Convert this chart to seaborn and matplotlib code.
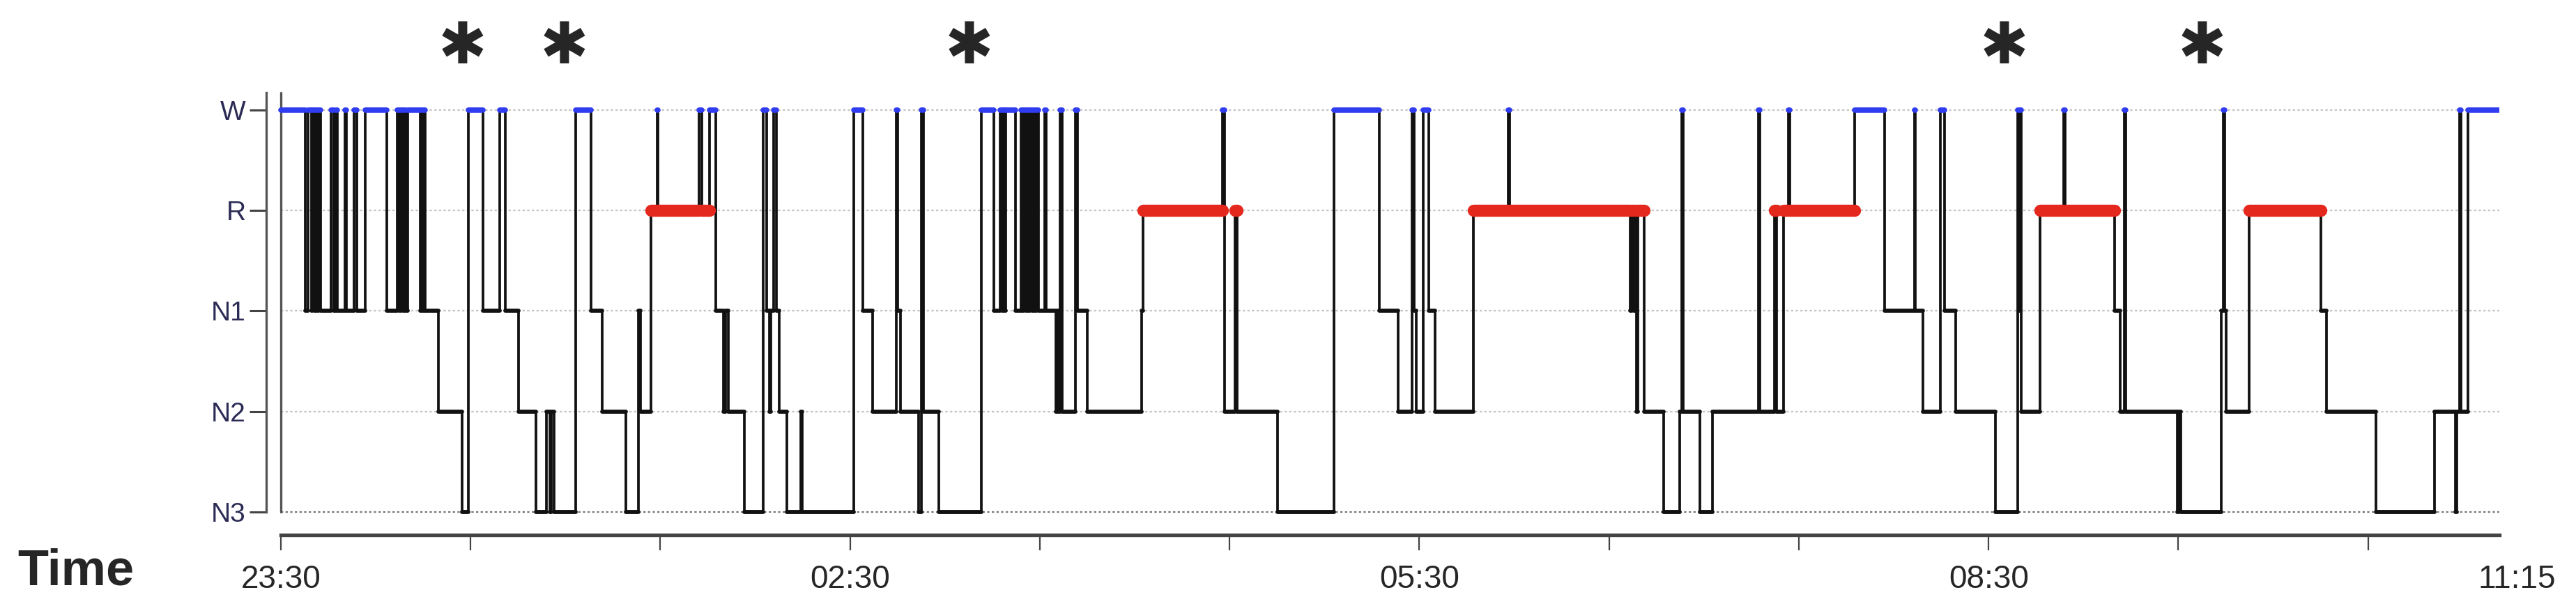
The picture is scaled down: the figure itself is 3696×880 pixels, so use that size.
import matplotlib
matplotlib.use('Agg')
import pandas as pd
import matplotlib.pyplot as plt
import seaborn as sns

# y levels, bottom to top
stage_names = ['N3', 'N2', 'N1', 'R', 'W']

# x axis: minutes after 23:30
hour_ticks = [0, 60, 120, 180, 240, 300, 360, 420, 480, 540, 600, 660]
hour_labels = ['23:30', '', '', '02:30', '', '', '05:30', '', '', '08:30', '', '']
end_label = '11:15'
end_min = 701.6

# asterisk marks above the plot (minutes)
star_min = [57.5, 89.7, 217.7, 545.0, 607.5]

# start of each scored stage (minutes) and the stage from there on
change_min = [
    0.0, 7.8, 8.5, 9.6, 10.0, 10.5, 11.0, 11.5, 12.0, 12.5,
    15.9, 16.8, 17.3, 17.9, 20.3, 20.8, 23.2, 24.0, 26.7, 33.5,
    36.8, 37.5, 38.0, 38.5, 39.0, 39.5, 40.1, 44.1, 44.5, 45.0, 45.3, 45.6,
    49.7, 57.4, 59.2, 64.0, 69.1, 70.9, 75.2, 80.7, 84.0, 85.0, 85.5, 86.5,
    93.3, 98.0, 101.6, 109.1, 113.0, 113.8, 117.1, 118.9, 119.3, 132.3, 133.2, 135.6, 137.5,
    139.9, 140.6, 141.4, 146.6, 152.5, 153.6, 154.4, 155.0, 155.9, 156.7, 157.6, 160.0, 164.3, 164.8,
    181.2, 184.0, 187.1, 194.6, 195.0, 196.0, 201.7, 202.6, 203.3, 208.0,
    221.4, 225.4, 227.4, 228.0, 228.5, 229.0, 229.3, 232.2,
    234.0, 234.5, 235.0, 235.5, 236.0, 236.5, 237.0, 237.5, 238.0, 238.5, 239.0, 239.5,
    241.6, 242.0, 245.0, 245.5, 246.0, 246.5, 247.0, 251.3, 251.8, 255.0,
    272.2, 272.6, 297.8, 298.3, 301.8, 302.4, 315.1, 332.9, 347.4, 353.3,
    357.8, 358.4, 359.0, 361.3, 362.9, 364.9, 377.1, 388.0, 388.5,
    426.7, 427.2, 427.7, 428.2, 428.6, 429.2, 431.0, 437.3, 442.4, 443.0, 443.5, 448.7, 452.6,
    467.2, 467.6, 472.4, 473.0, 475.2, 476.8, 477.2, 497.7, 507.1, 516.5, 516.9, 519.3,
    524.8, 526.0, 529.5, 542.1, 549.2, 549.6, 550.0, 550.4, 556.3, 563.8, 564.2, 579.9, 581.5, 583.0, 583.4,
    599.6, 600.2, 600.8, 613.5, 614.2, 614.6, 615.2, 622.4, 645.1, 646.8, 662.4, 681.0,
    687.6, 688.1, 689.0, 689.4, 691.5,
]
stage_seq = [
    'W', 'N1', 'W', 'N1', 'W', 'N1', 'W', 'N1', 'W', 'N1',
    'W', 'N1', 'W', 'N1', 'W', 'N1', 'W', 'N1', 'W', 'N1',
    'W', 'N1', 'W', 'N1', 'W', 'N1', 'W', 'N1', 'W', 'N1', 'W', 'N1',
    'N2', 'N3', 'W', 'N1', 'W', 'N1', 'N2', 'N3', 'N2', 'N3', 'N2', 'N3',
    'W', 'N1', 'N2', 'N3', 'N1', 'N2', 'R', 'W', 'R', 'W', 'R', 'W', 'N1',
    'N2', 'N1', 'N2', 'N3', 'W', 'N1', 'N2', 'N1', 'W', 'N1', 'N2', 'N3', 'N2', 'N3',
    'W', 'N1', 'N2', 'W', 'N1', 'N2', 'N3', 'W', 'N2', 'N3',
    'W', 'N1', 'W', 'N1', 'W', 'N1', 'W', 'N1',
    'W', 'N1', 'W', 'N1', 'W', 'N1', 'W', 'N1', 'W', 'N1', 'W', 'N1',
    'W', 'N1', 'N2', 'N1', 'N2', 'W', 'N2', 'W', 'N1', 'N2',
    'N1', 'R', 'W', 'N2', 'R', 'N2', 'N3', 'W', 'N1', 'N2',
    'W', 'N1', 'N2', 'W', 'N1', 'N2', 'R', 'W', 'R',
    'N1', 'R', 'N1', 'R', 'N2', 'R', 'N2', 'N3', 'N2', 'W', 'N2', 'N3', 'N2',
    'W', 'N2', 'R', 'N2', 'R', 'W', 'R', 'W', 'N1', 'W', 'N1', 'N2',
    'W', 'N1', 'N2', 'N3', 'W', 'N1', 'W', 'N2', 'R', 'W', 'R', 'N1', 'N2', 'W', 'N2',
    'N3', 'N2', 'N3', 'N1', 'W', 'N1', 'N2', 'R', 'N1', 'N2', 'N3', 'N2',
    'N3', 'N2', 'W', 'N2', 'W',
]
assert len(change_min) == len(stage_seq)

level = {s: i for i, s in enumerate(stage_names)}

sns.set_style('white')
plt.rcParams['font.family'] = ['Liberation Sans Narrow', 'Liberation Sans', 'DejaVu Sans']
plt.rcParams['lines.solid_capstyle'] = 'round'

fig = plt.figure(figsize=(36.96, 8.8), dpi=100)
ax = fig.add_axes([382 / 3696, 109 / 880, 3204 / 3696, 678 / 880])

# dotted level lines
for y in range(5):
    ax.plot([0, end_min], [y, y], color='#777777' if y == 0 else '#c4c4c4',
            lw=1.6, ls=(0, (1.5, 1.5)), zorder=1)
ax.plot([0, 0], [0, 4.17], color='#555555', lw=2.4, zorder=2)

# hypnogram step line
steps = pd.DataFrame({
    't': change_min + [end_min],
    'lvl': [level[s] for s in stage_seq] + [level[stage_seq[-1]]],
})
sns.lineplot(data=steps, x='t', y='lvl', drawstyle='steps-post', estimator=None,
             sort=False, color='#111111', linewidth=2.7, ax=ax, zorder=3)

# coloured bands for each stage period
seg_end = change_min[1:] + [end_min]
rows = []
for i, (t0, t1, s) in enumerate(zip(change_min, seg_end, stage_seq)):
    grp = s if s in ('W', 'R') else 'N'
    rows.append((i, t0, level[s], grp))
    rows.append((i, t1, level[s], grp))
bands = pd.DataFrame(rows, columns=['seg', 't', 'lvl', 'grp'])
sns.lineplot(data=bands, x='t', y='lvl', units='seg', estimator=None, sort=False,
             hue='grp', size='grp',
             palette={'W': '#2f3cf0', 'R': '#e5281e', 'N': '#111111'},
             sizes={'W': 5.5, 'R': 12.5, 'N': 4.2}, legend=False, ax=ax, zorder=4)

ax.set_xlim(-4.63, 701.5)
ax.set_ylim(-0.25, 4.45)
ax.set_yticks(range(5), stage_names)
ax.set_xticks(hour_ticks, hour_labels)
ax.set_xlabel('')
ax.set_ylabel('')

for sp in ['top', 'right']:
    ax.spines[sp].set_visible(False)
ax.spines['left'].set_bounds(0, 4.17)
ax.spines['left'].set_color('#555555')
ax.spines['left'].set_linewidth(2.4)
ax.spines['bottom'].set_position(('data', -0.23))
ax.spines['bottom'].set_bounds(0, 701.5)
ax.spines['bottom'].set_color('#444444')
ax.spines['bottom'].set_linewidth(3.8)

ax.tick_params(axis='y', left=True, length=17, width=2.2, color='#444444', pad=4,
               labelsize=28, labelcolor='#2b2b55')
ax.tick_params(axis='x', bottom=True, length=16, width=1.6, color='#444444', pad=14,
               labelsize=33)

ax.annotate(end_label, xy=(707, -0.23), xycoords='data', xytext=(0, -30),
            textcoords='offset points', ha='center', va='top', fontsize=33,
            annotation_clip=False)

for m in star_min:
    ax.text(m, 4.63, '\u2731', fontsize=60, ha='center', va='center',
            family='DejaVu Sans', clip_on=False)

fig.text(109 / 3696, 1 - 820 / 880, 'Time', fontsize=52, fontweight='bold',
         ha='center', va='center')

fig.savefig('out.png', dpi=100)
